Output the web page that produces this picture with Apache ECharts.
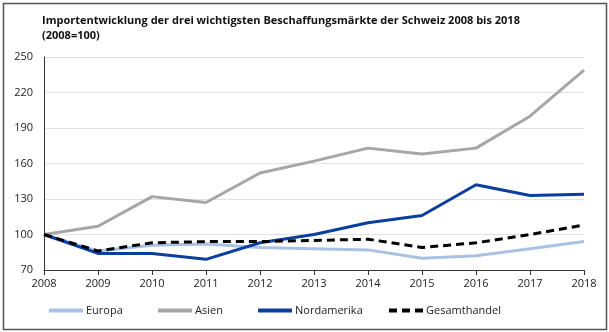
<!DOCTYPE html>
<html>
<head>
<meta charset="utf-8">
<script src="https://cdn.jsdelivr.net/npm/echarts@6/dist/echarts.min.js"></script>
<style>
  html, body { margin: 0; padding: 0; background: #fff; }
  #chart { width: 609px; height: 332px; }
</style>
</head>
<body>
<div id="chart"></div>
<script>
// Import index of Switzerland's three main sourcing markets, 2008 = 100
const years = ['2008','2009','2010','2011','2012','2013','2014','2015','2016','2017','2018'];
const europa       = [100, 86, 91, 92, 89, 88, 87, 80, 82, 88, 94];
const asien        = [100, 107, 132, 127, 152, 162, 173, 168, 173, 200, 239];
const nordamerika  = [100, 84, 84, 79, 93, 100, 110, 116, 142, 133, 134];
const gesamthandel = [100, 86, 93, 94, 94, 95, 96, 89, 93, 100, 108];

const font = '"Open Sans", "Noto Sans", sans-serif';
const chart = echarts.init(document.getElementById('chart'), null, { renderer: 'canvas' });

function legendAt(name, left) {
  return {
    data: [name], left: left, top: 300,
    itemWidth: 34, itemHeight: 10, itemGap: 4,
    itemStyle: { opacity: 0 },
    lineStyle: { width: 4 },
    textStyle: { fontFamily: font, fontSize: 11, color: '#222', padding: [0, 0, 0, -2] },
    selectedMode: false
  };
}

function lineSeries(name, data, color, dashed, z) {
  return {
    name: name, type: 'line', data: data, symbol: 'none', z: z,
    lineStyle: { color: color, width: 3, type: dashed ? [8, 5] : 'solid' },
    itemStyle: { color: color },
    animation: false
  };
}

chart.setOption({
  animation: false,
  title: {
    text: 'Importentwicklung der drei wichtigsten Beschaffungsmärkte der Schweiz 2008 bis 2018\n(2008=100)',
    left: 37, top: 8,
    textStyle: { fontFamily: font, fontSize: 11, fontWeight: 'bold', color: '#111', lineHeight: 15 }
  },
  graphic: [{
    type: 'rect', left: 1, top: 1,
    shape: { width: 603, height: 326 },
    style: { fill: 'none', stroke: '#555', lineWidth: 1.5 }, silent: true
  }],
  grid: { left: 44, right: 25, top: 57, bottom: 62 },
  legend: [
    legendAt('Europa', 42),
    legendAt('Asien', 151),
    legendAt('Nordamerika', 251),
    legendAt('Gesamthandel', 382)
  ],
  xAxis: {
    type: 'category', data: years, boundaryGap: false,
    axisLine: { lineStyle: { color: '#333', width: 1 } },
    axisTick: { show: true, alignWithLabel: true, length: 5, lineStyle: { color: '#333' } },
    axisLabel: { fontFamily: font, fontSize: 11, color: '#222', margin: 8, interval: 0 },
    splitLine: { show: false }
  },
  yAxis: {
    type: 'value', min: 70, max: 250, interval: 30,
    axisLine: { show: true, lineStyle: { color: '#333', width: 1 } },
    axisTick: { show: false },
    axisLabel: { fontFamily: font, fontSize: 11, color: '#222', margin: 11 },
    splitLine: { lineStyle: { color: '#e2e2e2', width: 1 } }
  },
  series: [
    lineSeries('Europa', europa, '#a9c1e3', false, 2),
    lineSeries('Asien', asien, '#a6a6a6', false, 3),
    lineSeries('Nordamerika', nordamerika, '#0b3f9e', false, 4),
    lineSeries('Gesamthandel', gesamthandel, '#000000', true, 5)
  ]
});
</script>
</body>
</html>
